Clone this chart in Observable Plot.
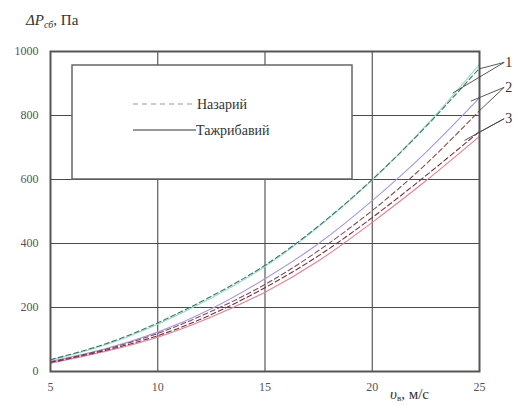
<!DOCTYPE html>
<html><head><meta charset="utf-8">
<script src="https://cdn.jsdelivr.net/npm/d3@7"></script>
<script src="https://cdn.jsdelivr.net/npm/@observablehq/plot@0.6"></script>
<style>
body{margin:0;background:#fff}
#chart svg{overflow:visible}
#chart svg text{font-family:"Liberation Serif","Times New Roman","DejaVu Serif","Noto Serif",serif}
</style>
</head><body><div id="chart"></div>
<script>
// Air speed, m/s
const speeds = [5, 7.5, 10, 12.5, 15, 17.5, 20, 22.5, 25];
// Pressure drop, Pa
const theory1 = [37, 85, 152, 235, 332, 455, 600, 765, 948];
const exper1  = [35, 82, 148, 230, 328, 452, 598, 768, 960];
const exper2  = [31, 70, 123, 196, 290, 400, 534, 685, 855];
const theory2 = [30, 68, 119, 188, 272, 378, 503, 648, 815];
const theory3 = [28, 65, 112, 178, 262, 362, 481, 612, 750];
const exper3  = [26, 62, 107, 170, 248, 346, 466, 596, 735];

const xTicks = [5, 10, 15, 20, 25];
const yTicks = [0, 200, 400, 600, 800, 1000];
const legendLabels = ["Назарий", "Тажрибавий"];
const curveNames = ["1", "2", "3"];
// label anchor points and arrow targets (data units)
const labelX = [26.2, 26.2, 26.2];
const labelY = [966, 888, 790];
const arrowTargetX = [[25, 23.75], [24.6, 25], [25, 24.3]];
const arrowTargetY = [[946, 870], [845, 815], [748, 722]];

const FONT = "'Liberation Serif', 'Times New Roman', 'DejaVu Serif', 'Noto Serif', serif";

const series = [
  {values: exper1, color: "#9ad9d4", dash: null},
  {values: theory1, color: "#3d7a62", dash: "5,3"},
  {values: exper2, color: "#a996e0", dash: null},
  {values: theory2, color: "#8a4b52", dash: "5,3"},
  {values: exper3, color: "#e57f96", dash: null},
  {values: theory3, color: "#6b3440", dash: "5,3"}
];

const lineMarks = series.map(s => Plot.line(
  speeds.map((x, i) => ({x, y: s.values[i]})),
  {x: "x", y: "y", stroke: s.color, strokeWidth: 1.1, strokeDasharray: s.dash, curve: "natural"}
));

const arrows = curveNames.flatMap((n, i) => arrowTargetX[i].map((tx, j) => ({
  x1: labelX[i] - 0.05, y1: labelY[i], x2: tx, y2: arrowTargetY[i][j]
})));
const labels = curveNames.map((n, i) => ({x: labelX[i], y: labelY[i], t: n}));

const chart = Plot.plot({
  width: 516, height: 405,
  marginLeft: 50, marginRight: 37, marginTop: 51, marginBottom: 34,
  style: {fontFamily: FONT, background: "#fff"},
  x: {domain: [5, 25]},
  y: {domain: [0, 1000]},
  marks: [
    Plot.ruleX(xTicks.slice(1, -1), {stroke: "#4a4a4a", strokeWidth: 1.1}),
    Plot.ruleY(yTicks.slice(1, -1), {stroke: "#4a4a4a", strokeWidth: 1.1}),
    ...lineMarks,
    Plot.frame({stroke: "#555", strokeWidth: 2}),
    Plot.axisX({ticks: xTicks, tickSize: 0, tickPadding: 11, fontSize: 12, fill: "#555", label: null, tickFormat: d => String(d)}),
    Plot.axisY({ticks: yTicks, tickSize: 0, tickPadding: 12, fontSize: 12, fill: "#555", label: null, tickFormat: d => String(d)}),
    Plot.link(arrows, {x1: "x1", y1: "y1", x2: "x2", y2: "y2", stroke: "#444", strokeWidth: 0.9, clip: false}),
    Plot.text(labels, {x: "x", y: "y", text: "t", fontSize: 14, fill: "#333", textAnchor: "start", clip: false})
  ]
});
document.getElementById("chart").appendChild(chart);

const svg = d3.select(chart);
// legend box
const lg = svg.append("g").attr("font-family", FONT).attr("text-anchor", "start");
lg.append("rect").attr("x", 72).attr("y", 65).attr("width", 280).attr("height", 114)
  .attr("fill", "#fff").attr("stroke", "#666").attr("stroke-width", 1.5);
lg.append("line").attr("x1", 133).attr("x2", 196).attr("y1", 104).attr("y2", 104)
  .attr("stroke", "#999").attr("stroke-width", 1.2).attr("stroke-dasharray", "5,4");
lg.append("line").attr("x1", 133).attr("x2", 196).attr("y1", 130).attr("y2", 130)
  .attr("stroke", "#333").attr("stroke-width", 1.1);
lg.append("text").attr("x", 197).attr("y", 104).attr("dy", "0.35em")
  .attr("font-size", 14).attr("fill", "#333").text(legendLabels[0]);
lg.append("text").attr("x", 196).attr("y", 130).attr("dy", "0.35em")
  .attr("font-size", 14).attr("fill", "#333").text(legendLabels[1]);

// y-axis title
const yt = svg.append("text").attr("x", 26).attr("y", 25).attr("font-size", 15)
  .attr("text-anchor", "start").attr("fill", "#333").attr("font-family", FONT);
yt.append("tspan").attr("font-style", "italic").text("ΔP");
yt.append("tspan").attr("font-style", "italic").attr("font-size", 10).attr("dy", 3).text("сб");
yt.append("tspan").attr("dy", -3).text(", Па");

// x-axis title
const xt = svg.append("text").attr("x", 390).attr("y", 399).attr("font-size", 15)
  .attr("text-anchor", "start").attr("fill", "#333").attr("font-family", FONT);
xt.append("tspan").attr("font-style", "italic").text("υ");
xt.append("tspan").attr("font-size", 9).attr("dy", 2).text("в");
xt.append("tspan").attr("dy", -2).text(", м/с");
</script>
</body></html>
